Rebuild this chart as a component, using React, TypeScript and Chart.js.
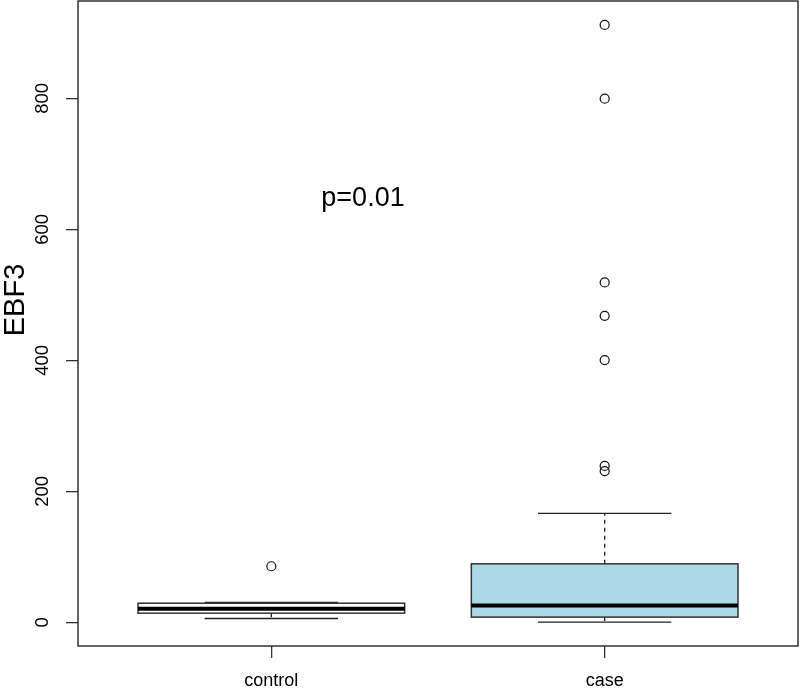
import React, { useEffect, useRef } from 'react';
import { Chart, registerables } from 'chart.js';

Chart.register(...registerables);

const groups = ['control', 'case'];
const groupPositions = [1, 2];
const whiskerLow = [6.1, 0.6];
const quartile1 = [14.2, 8.2];
const medians = [20.8, 25.9];
const quartile3 = [29.4, 89.5];
const whiskerHigh = [30.5, 166.6];
const boxColors = ['#ffffff', '#add8e6'];
const outliersControl = [85.8];
const outliersCase = [912, 799.5, 519, 468, 400.5, 239, 231];
const yTicks = [0, 200, 400, 600, 800];
const yLabel = 'EBF3';
const annotationText = 'p=0.01';
const annotationX = 1.275;
const annotationY = 647;

const FONT = "'Liberation Sans', Arial, Helvetica, sans-serif";
const LINE = '#222';

const boxPlugin = {
  id: 'rBoxes',
  beforeDatasetsDraw(chart: any) {
    const { ctx } = chart;
    const x = chart.scales.x;
    const y = chart.scales.y;
    ctx.save();
    groups.forEach((_g, i) => {
      const p = groupPositions[i];
      const cx = x.getPixelForValue(p);
      const left = x.getPixelForValue(p - 0.4);
      const right = x.getPixelForValue(p + 0.4);
      const capL = x.getPixelForValue(p - 0.2);
      const capR = x.getPixelForValue(p + 0.2);
      const yLo = y.getPixelForValue(whiskerLow[i]);
      const yQ1 = y.getPixelForValue(quartile1[i]);
      const yMed = y.getPixelForValue(medians[i]);
      const yQ3 = y.getPixelForValue(quartile3[i]);
      const yHi = y.getPixelForValue(whiskerHigh[i]);
      ctx.strokeStyle = LINE;
      ctx.lineWidth = 1.3;
      ctx.setLineDash([4, 4]);
      ctx.beginPath();
      ctx.moveTo(cx, yQ3);
      ctx.lineTo(cx, yHi);
      ctx.moveTo(cx, yQ1);
      ctx.lineTo(cx, yLo);
      ctx.stroke();
      ctx.setLineDash([]);
      ctx.beginPath();
      ctx.moveTo(capL, yHi);
      ctx.lineTo(capR, yHi);
      ctx.moveTo(capL, yLo);
      ctx.lineTo(capR, yLo);
      ctx.stroke();
      ctx.fillStyle = boxColors[i];
      ctx.fillRect(left, yQ3, right - left, yQ1 - yQ3);
      ctx.lineWidth = 1.5;
      ctx.strokeStyle = '#333';
      ctx.strokeRect(left, yQ3, right - left, yQ1 - yQ3);
      ctx.strokeStyle = '#000';
      ctx.lineWidth = 4;
      ctx.beginPath();
      ctx.moveTo(left, yMed);
      ctx.lineTo(right, yMed);
      ctx.stroke();
    });
    ctx.restore();
  },
  afterDraw(chart: any) {
    const { ctx, chartArea } = chart;
    const x = chart.scales.x;
    const y = chart.scales.y;
    ctx.save();
    ctx.strokeStyle = '#333';
    ctx.lineWidth = 1.5;
    ctx.strokeRect(chartArea.left, chartArea.top, chartArea.right - chartArea.left, chartArea.bottom - chartArea.top);
    ctx.fillStyle = '#000';
    ctx.font = `27px ${FONT}`;
    ctx.textAlign = 'center';
    ctx.textBaseline = 'middle';
    ctx.fillText(annotationText, x.getPixelForValue(annotationX), y.getPixelForValue(annotationY));
    // y-axis title
    ctx.font = `29px ${FONT}`;
    ctx.textBaseline = 'alphabetic';
    ctx.translate(24, 300);
    ctx.rotate(-Math.PI / 2);
    ctx.fillText(yLabel, 0, 0);
    ctx.restore();
  },
};

export default function App() {
  const ref = useRef<HTMLCanvasElement | null>(null);
  useEffect(() => {
    document.body.style.margin = '0';
    if (!ref.current) return;
    const outlierData = [
      ...outliersControl.map((v) => ({ x: groupPositions[0], y: v })),
      ...outliersCase.map((v) => ({ x: groupPositions[1], y: v })),
    ];
    const chart = new Chart(ref.current, {
      type: 'scatter',
      data: {
        datasets: [
          {
            data: outlierData,
            pointRadius: 4.5,
            pointBorderWidth: 1.2,
            pointBorderColor: '#111',
            pointBackgroundColor: 'rgba(0,0,0,0)',
            showLine: false,
            clip: false,
          },
        ],
      },
      options: {
        responsive: false,
        animation: false,
        layout: { autoPadding: false, padding: { top: 1, right: 2, left: 0, bottom: 0 } },
        plugins: { legend: { display: false }, tooltip: { enabled: false } },
        scales: {
          x: {
            type: 'linear',
            min: 0.42,
            max: 2.58,
            afterBuildTicks: (s: any) => {
              s.ticks = groupPositions.map((v) => ({ value: v }));
            },
            afterFit: (s: any) => {
              s.height = 42;
              s.paddingLeft = 0;
              s.paddingRight = 0;
            },
            ticks: {
              callback: (v: any) => {
                const idx = groupPositions.indexOf(Number(v));
                return idx >= 0 ? groups[idx] : '';
              },
              font: { family: FONT, size: 18 },
              color: '#000',
              padding: 12,
              minRotation: 0,
              maxRotation: 0,
              autoSkip: false,
            },
            grid: { drawOnChartArea: false, drawTicks: true, tickLength: 12, color: '#333', lineWidth: 1.3 },
            border: { display: false },
          },
          y: {
            type: 'linear',
            min: -35.9,
            max: 948.5,
            afterBuildTicks: (s: any) => {
              s.ticks = yTicks.map((v) => ({ value: v }));
            },
            afterFit: (s: any) => {
              s.width = 78;
              s.paddingTop = 0;
              s.paddingBottom = 0;
            },
            ticks: {
              minRotation: 90,
              maxRotation: 90,
              crossAlign: 'center',
              padding: 8,
              font: { family: FONT, size: 18.5 },
              color: '#000',
              autoSkip: false,
            },
            grid: { drawOnChartArea: false, drawTicks: true, tickLength: 12, color: '#333', lineWidth: 1.3 },
            border: { display: false },
            title: { display: false },
          },
        },
      },
      plugins: [boxPlugin],
    } as any);
    return () => chart.destroy();
  }, []);
  return (
    <div style={{ width: 800, height: 688 }}>
      <canvas ref={ref} width={800} height={688} style={{ display: 'block' }} />
    </div>
  );
}
